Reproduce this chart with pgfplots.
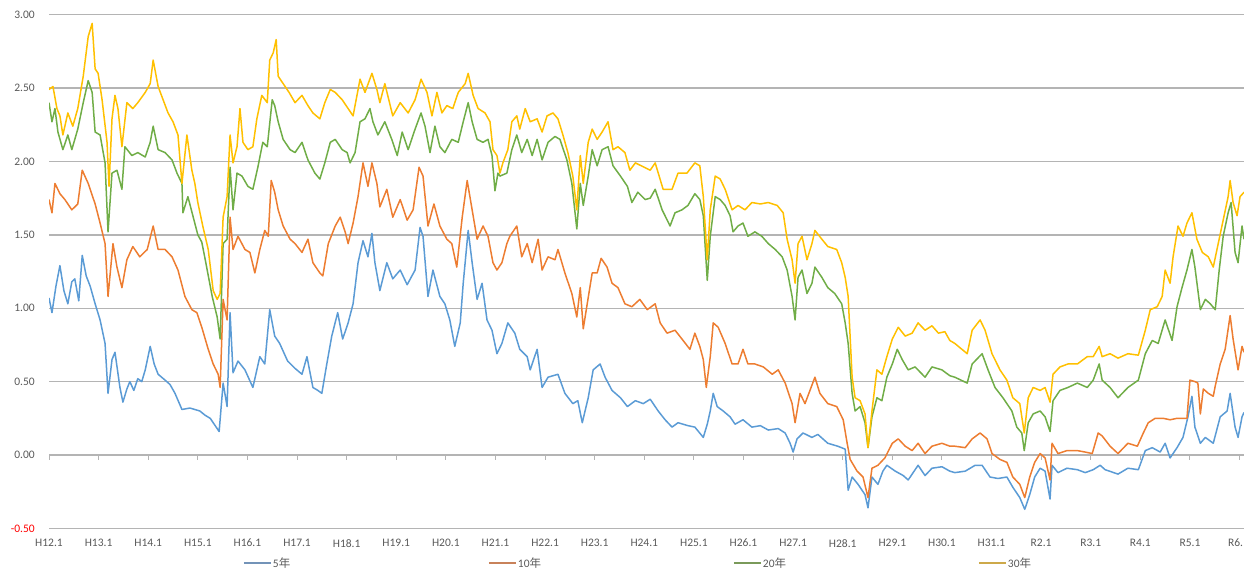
\documentclass[border=0pt]{standalone}
\usepackage{pgfplots}
\pgfplotsset{compat=1.18}
\usepackage{pgfplotstable}
\usepackage{fontspec}
\setmainfont{Carlito}
\newfontfamily\cjk{Noto Sans CJK JP}
\definecolor{c5}{HTML}{5B9BD5}
\definecolor{c10}{HTML}{ED7D31}
\definecolor{c20}{HTML}{70AD47}
\definecolor{c30}{HTML}{FFC000}
\definecolor{lg5}{HTML}{7393B8}
\definecolor{lg10}{HTML}{C8825A}
\definecolor{lg20}{HTML}{7A9A5A}
\definecolor{lg30}{HTML}{CDA94A}
\definecolor{gridgray}{HTML}{B4B4B4}
\definecolor{labelgray}{HTML}{595959}

\pgfplotstableread{
t v
0.00 1.07
0.06 0.97
0.14 1.15
0.22 1.29
0.30 1.12
0.38 1.03
0.46 1.18
0.52 1.20
0.60 1.05
0.67 1.36
0.75 1.22
0.83 1.15
0.93 1.03
1.03 0.92
1.13 0.76
1.19 0.42
1.27 0.65
1.33 0.70
1.43 0.46
1.49 0.36
1.57 0.45
1.63 0.50
1.71 0.44
1.79 0.52
1.87 0.50
1.94 0.58
2.04 0.74
2.12 0.62
2.20 0.55
2.34 0.51
2.44 0.48
2.54 0.42
2.68 0.31
2.84 0.32
3.04 0.30
3.15 0.27
3.25 0.25
3.35 0.20
3.43 0.16
3.51 0.49
3.59 0.33
3.65 0.97
3.71 0.56
3.81 0.64
3.95 0.58
4.11 0.46
4.25 0.67
4.35 0.62
4.45 0.99
4.55 0.81
4.65 0.76
4.81 0.64
4.96 0.59
5.10 0.55
5.20 0.67
5.32 0.46
5.42 0.44
5.50 0.42
5.60 0.62
5.70 0.81
5.82 0.97
5.92 0.79
6.03 0.90
6.13 1.03
6.23 1.31
6.33 1.46
6.43 1.35
6.51 1.51
6.57 1.31
6.67 1.12
6.81 1.31
6.93 1.20
7.08 1.26
7.22 1.16
7.38 1.26
7.48 1.55
7.54 1.49
7.64 1.08
7.74 1.26
7.88 1.08
7.98 1.03
8.08 0.92
8.18 0.74
8.29 0.90
8.35 1.17
8.45 1.53
8.53 1.31
8.63 1.06
8.73 1.17
8.83 0.92
8.93 0.85
9.03 0.69
9.13 0.76
9.25 0.90
9.39 0.83
9.49 0.72
9.64 0.67
9.70 0.58
9.84 0.72
9.94 0.46
10.06 0.53
10.26 0.55
10.40 0.42
10.56 0.35
10.66 0.37
10.75 0.22
10.87 0.39
10.97 0.58
11.11 0.62
11.21 0.53
11.35 0.44
11.52 0.39
11.66 0.33
11.82 0.37
11.98 0.35
12.12 0.38
12.28 0.30
12.42 0.24
12.56 0.19
12.68 0.22
12.88 0.20
13.02 0.19
13.19 0.12
13.27 0.21
13.33 0.30
13.39 0.42
13.47 0.33
13.59 0.30
13.73 0.26
13.83 0.21
13.99 0.24
14.17 0.19
14.34 0.20
14.50 0.17
14.70 0.18
14.84 0.15
14.94 0.08
15.00 0.02
15.08 0.11
15.20 0.15
15.38 0.12
15.50 0.14
15.70 0.08
15.90 0.06
16.05 0.04
16.11 -0.24
16.19 -0.15
16.31 -0.20
16.45 -0.27
16.51 -0.36
16.59 -0.15
16.71 -0.20
16.81 -0.11
16.89 -0.07
17.06 -0.11
17.22 -0.14
17.32 -0.17
17.52 -0.07
17.66 -0.14
17.80 -0.09
18.00 -0.08
18.16 -0.11
18.26 -0.12
18.47 -0.11
18.67 -0.07
18.81 -0.07
18.97 -0.15
19.13 -0.16
19.31 -0.15
19.43 -0.22
19.57 -0.29
19.67 -0.37
19.77 -0.27
19.87 -0.15
19.98 -0.09
20.08 -0.11
20.18 -0.30
20.22 -0.07
20.34 -0.12
20.52 -0.09
20.73 -0.10
20.89 -0.12
21.05 -0.10
21.19 -0.07
21.29 -0.10
21.55 -0.13
21.75 -0.09
21.96 -0.10
22.10 0.03
22.24 0.05
22.40 0.02
22.50 0.08
22.60 -0.02
22.74 0.05
22.86 0.12
22.96 0.26
23.04 0.40
23.10 0.19
23.21 0.08
23.31 0.12
23.47 0.08
23.61 0.26
23.75 0.30
23.81 0.42
23.91 0.19
23.97 0.12
24.05 0.26
24.09 0.29
}\fiveyr

\pgfplotstableread{
t v
0.00 1.74
0.06 1.65
0.12 1.85
0.22 1.78
0.32 1.74
0.46 1.67
0.58 1.71
0.67 1.94
0.79 1.85
0.93 1.71
1.03 1.58
1.13 1.44
1.19 1.08
1.29 1.44
1.37 1.28
1.47 1.14
1.57 1.33
1.69 1.42
1.83 1.35
1.98 1.40
2.10 1.56
2.20 1.40
2.34 1.40
2.48 1.35
2.60 1.26
2.74 1.08
2.88 0.99
2.98 0.97
3.08 0.87
3.21 0.72
3.31 0.62
3.41 0.55
3.45 0.46
3.51 1.06
3.59 0.92
3.65 1.62
3.71 1.40
3.81 1.49
3.95 1.40
4.05 1.38
4.15 1.24
4.25 1.40
4.35 1.53
4.42 1.49
4.48 1.87
4.55 1.79
4.62 1.67
4.72 1.56
4.86 1.47
4.96 1.44
5.10 1.38
5.22 1.47
5.32 1.31
5.46 1.24
5.52 1.22
5.63 1.44
5.77 1.56
5.87 1.62
5.97 1.52
6.03 1.44
6.13 1.58
6.23 1.76
6.33 1.99
6.43 1.83
6.51 1.99
6.61 1.85
6.67 1.69
6.81 1.81
6.93 1.62
7.08 1.74
7.22 1.60
7.34 1.67
7.46 1.96
7.54 1.90
7.64 1.56
7.76 1.71
7.88 1.56
8.02 1.47
8.12 1.44
8.22 1.28
8.33 1.62
8.43 1.87
8.53 1.67
8.63 1.47
8.75 1.56
8.85 1.49
8.95 1.31
9.03 1.26
9.13 1.31
9.23 1.44
9.29 1.49
9.43 1.56
9.53 1.35
9.64 1.44
9.74 1.31
9.86 1.47
9.94 1.26
10.06 1.35
10.20 1.33
10.26 1.40
10.40 1.24
10.54 1.10
10.64 0.94
10.71 1.14
10.77 0.86
10.85 1.03
10.95 1.24
11.05 1.24
11.13 1.34
11.25 1.28
11.35 1.17
11.47 1.14
11.61 1.03
11.75 1.01
11.91 1.06
12.06 0.99
12.22 1.03
12.32 0.90
12.46 0.83
12.62 0.85
12.76 0.79
12.92 0.72
13.02 0.83
13.12 0.74
13.19 0.65
13.25 0.46
13.33 0.67
13.39 0.90
13.49 0.87
13.63 0.76
13.77 0.62
13.89 0.62
13.99 0.72
14.09 0.62
14.23 0.62
14.40 0.60
14.58 0.55
14.70 0.58
14.84 0.49
14.98 0.35
15.04 0.22
15.14 0.42
15.24 0.35
15.34 0.44
15.44 0.53
15.54 0.42
15.70 0.35
15.88 0.33
16.01 0.24
16.09 0.08
16.15 -0.03
16.29 -0.11
16.41 -0.15
16.51 -0.29
16.59 -0.09
16.71 -0.07
16.85 -0.02
17.00 0.08
17.12 0.11
17.26 0.06
17.40 0.03
17.52 0.08
17.66 0.01
17.80 0.06
18.00 0.08
18.16 0.06
18.26 0.06
18.47 0.05
18.61 0.11
18.77 0.15
18.91 0.11
19.01 0.01
19.17 -0.03
19.31 -0.05
19.43 -0.15
19.57 -0.20
19.67 -0.29
19.77 -0.15
19.87 -0.05
19.98 0.01
20.08 -0.02
20.18 -0.17
20.22 0.08
20.34 0.01
20.52 0.03
20.73 0.03
20.89 0.02
21.03 0.01
21.15 0.15
21.23 0.13
21.39 0.06
21.55 0.01
21.75 0.08
21.94 0.06
22.06 0.15
22.16 0.22
22.30 0.25
22.46 0.25
22.60 0.24
22.74 0.25
22.94 0.25
23.00 0.51
23.10 0.50
23.16 0.49
23.21 0.28
23.27 0.45
23.37 0.42
23.47 0.40
23.51 0.47
23.61 0.62
23.71 0.72
23.81 0.95
23.87 0.79
23.97 0.58
24.05 0.74
24.09 0.70
}\tenyr

\pgfplotstableread{
t v
0.00 2.40
0.06 2.27
0.12 2.36
0.18 2.20
0.28 2.08
0.38 2.18
0.46 2.08
0.58 2.22
0.69 2.40
0.79 2.55
0.87 2.47
0.93 2.20
1.03 2.18
1.13 1.99
1.19 1.52
1.27 1.92
1.37 1.94
1.47 1.81
1.53 2.10
1.67 2.04
1.79 2.06
1.94 2.03
2.04 2.13
2.10 2.24
2.20 2.08
2.34 2.06
2.48 2.01
2.58 1.92
2.68 1.85
2.70 1.65
2.80 1.76
2.90 1.63
3.00 1.50
3.08 1.45
3.15 1.33
3.29 1.08
3.39 0.94
3.45 0.79
3.51 1.44
3.59 1.47
3.65 1.96
3.71 1.67
3.79 1.92
3.89 1.90
4.01 1.83
4.11 1.81
4.21 1.96
4.31 2.13
4.40 2.10
4.50 2.42
4.55 2.38
4.62 2.27
4.72 2.15
4.86 2.08
4.96 2.06
5.10 2.13
5.22 2.01
5.36 1.92
5.46 1.88
5.56 1.99
5.67 2.13
5.77 2.15
5.91 2.08
6.01 2.06
6.07 1.99
6.17 2.06
6.27 2.27
6.37 2.29
6.47 2.36
6.53 2.27
6.63 2.18
6.77 2.27
6.91 2.15
7.02 2.04
7.12 2.20
7.24 2.08
7.38 2.22
7.50 2.33
7.58 2.24
7.68 2.06
7.78 2.24
7.88 2.10
7.98 2.06
8.12 2.15
8.25 2.13
8.35 2.27
8.45 2.40
8.53 2.27
8.63 2.15
8.75 2.13
8.85 2.15
8.93 2.04
8.99 1.80
9.05 1.92
9.09 1.90
9.23 1.92
9.33 2.08
9.43 2.18
9.53 2.06
9.64 2.15
9.74 2.04
9.84 2.15
9.94 2.01
10.06 2.13
10.20 2.17
10.30 2.15
10.44 2.01
10.54 1.85
10.64 1.54
10.71 1.85
10.77 1.70
10.87 1.90
10.95 2.08
11.05 1.97
11.15 2.08
11.27 2.10
11.37 1.97
11.52 1.90
11.66 1.83
11.75 1.72
11.87 1.79
12.02 1.74
12.12 1.75
12.22 1.81
12.36 1.67
12.52 1.56
12.62 1.65
12.76 1.67
12.88 1.70
13.02 1.78
13.12 1.74
13.19 1.63
13.27 1.19
13.33 1.49
13.43 1.76
13.53 1.74
13.63 1.70
13.73 1.63
13.79 1.52
13.89 1.56
13.99 1.58
14.09 1.49
14.23 1.52
14.37 1.49
14.50 1.44
14.64 1.40
14.78 1.35
14.88 1.26
14.98 1.08
15.04 0.92
15.10 1.21
15.18 1.26
15.28 1.10
15.38 1.17
15.44 1.28
15.58 1.21
15.70 1.14
15.84 1.10
15.98 1.03
16.05 0.90
16.11 0.76
16.19 0.42
16.25 0.30
16.35 0.33
16.45 0.22
16.51 0.05
16.59 0.26
16.69 0.39
16.79 0.37
16.89 0.53
17.00 0.62
17.10 0.72
17.20 0.65
17.32 0.58
17.46 0.60
17.66 0.53
17.80 0.60
18.00 0.58
18.16 0.54
18.26 0.53
18.51 0.49
18.61 0.62
18.81 0.69
18.93 0.58
19.07 0.46
19.23 0.39
19.41 0.30
19.51 0.19
19.61 0.15
19.66 0.03
19.74 0.22
19.84 0.28
19.98 0.30
20.08 0.26
20.18 0.16
20.24 0.37
20.38 0.44
20.54 0.46
20.73 0.49
20.93 0.46
21.05 0.51
21.17 0.62
21.23 0.51
21.39 0.46
21.55 0.39
21.75 0.46
21.96 0.51
22.10 0.69
22.24 0.78
22.36 0.76
22.50 0.92
22.64 0.78
22.74 1.01
22.84 1.14
22.94 1.26
23.04 1.40
23.10 1.28
23.21 0.99
23.31 1.06
23.41 1.03
23.51 0.99
23.59 1.26
23.67 1.49
23.77 1.65
23.83 1.72
23.91 1.38
23.97 1.31
24.05 1.56
24.09 1.47
}\twentyyr

\pgfplotstableread{
t v
0.00 2.49
0.08 2.51
0.16 2.36
0.22 2.31
0.28 2.18
0.38 2.33
0.48 2.24
0.58 2.36
0.69 2.58
0.79 2.85
0.87 2.94
0.93 2.63
0.99 2.60
1.07 2.42
1.17 2.13
1.21 1.83
1.27 2.29
1.33 2.45
1.39 2.36
1.47 2.10
1.57 2.40
1.69 2.36
1.79 2.40
1.94 2.47
2.04 2.53
2.10 2.69
2.20 2.51
2.30 2.42
2.40 2.33
2.50 2.27
2.60 2.18
2.68 1.85
2.78 2.18
2.88 1.94
2.94 1.85
3.00 1.72
3.10 1.56
3.21 1.40
3.31 1.12
3.39 1.06
3.45 1.10
3.51 1.62
3.59 1.76
3.65 2.18
3.71 1.99
3.79 2.10
3.85 2.36
3.91 2.13
4.01 2.08
4.11 2.10
4.19 2.29
4.29 2.45
4.40 2.40
4.45 2.69
4.52 2.74
4.58 2.83
4.62 2.58
4.72 2.53
4.84 2.47
4.96 2.40
5.10 2.45
5.22 2.38
5.32 2.33
5.46 2.29
5.56 2.40
5.67 2.49
5.77 2.47
5.91 2.42
6.03 2.36
6.13 2.31
6.27 2.56
6.37 2.47
6.51 2.60
6.61 2.49
6.67 2.40
6.77 2.53
6.93 2.31
7.08 2.40
7.24 2.33
7.38 2.42
7.50 2.56
7.62 2.47
7.72 2.31
7.82 2.47
7.92 2.33
8.02 2.38
8.14 2.36
8.25 2.47
8.39 2.53
8.45 2.60
8.55 2.45
8.65 2.36
8.79 2.33
8.89 2.27
8.95 2.08
9.03 2.04
9.09 1.92
9.15 1.99
9.25 2.08
9.33 2.27
9.43 2.31
9.49 2.22
9.60 2.36
9.70 2.27
9.84 2.29
9.94 2.20
10.04 2.31
10.16 2.33
10.26 2.29
10.36 2.18
10.46 2.06
10.56 1.90
10.64 1.67
10.71 2.04
10.77 1.85
10.87 2.13
10.95 2.22
11.05 2.15
11.15 2.20
11.27 2.27
11.37 2.08
11.47 2.10
11.61 2.06
11.71 1.94
11.82 1.99
11.94 1.97
12.12 1.94
12.22 1.99
12.38 1.81
12.56 1.81
12.68 1.92
12.86 1.92
13.02 1.99
13.12 1.97
13.19 1.76
13.27 1.33
13.33 1.67
13.43 1.90
13.53 1.88
13.63 1.81
13.77 1.67
13.89 1.70
14.03 1.67
14.17 1.72
14.34 1.71
14.50 1.72
14.68 1.70
14.80 1.65
14.88 1.47
14.98 1.33
15.04 1.17
15.10 1.44
15.18 1.49
15.28 1.33
15.38 1.44
15.44 1.53
15.58 1.47
15.70 1.42
15.88 1.40
15.98 1.31
16.05 1.21
16.11 1.08
16.19 0.53
16.25 0.39
16.35 0.37
16.45 0.28
16.51 0.05
16.59 0.30
16.69 0.58
16.79 0.55
16.89 0.67
17.00 0.79
17.12 0.87
17.26 0.81
17.40 0.83
17.52 0.90
17.66 0.85
17.80 0.88
17.93 0.83
18.06 0.84
18.16 0.78
18.26 0.76
18.51 0.69
18.61 0.85
18.77 0.92
18.87 0.85
19.01 0.69
19.17 0.58
19.31 0.51
19.43 0.39
19.57 0.35
19.66 0.15
19.74 0.39
19.84 0.46
19.98 0.44
20.08 0.46
20.18 0.36
20.24 0.55
20.38 0.60
20.54 0.62
20.73 0.62
20.93 0.67
21.05 0.67
21.17 0.74
21.23 0.67
21.39 0.69
21.55 0.66
21.75 0.69
21.96 0.68
22.10 0.85
22.20 0.99
22.34 1.01
22.44 1.08
22.50 1.26
22.60 1.17
22.66 1.35
22.76 1.56
22.86 1.49
22.94 1.58
23.04 1.65
23.14 1.47
23.25 1.38
23.37 1.35
23.47 1.28
23.57 1.44
23.67 1.60
23.77 1.76
23.81 1.87
23.87 1.72
23.95 1.63
24.01 1.76
24.09 1.79
}\thirtyyr

\begin{document}
\begin{tikzpicture}
\begin{axis}[
  scale only axis,
  width=1195bp, height=513.8bp,
  xmin=0, xmax=24.09, ymin=-0.5, ymax=3,
  axis line style={draw=none},
  tick style={draw=none},
  ytick={-0.5,0,0.5,1,1.5,2,2.5,3},
  yticklabels={\textcolor{red}{-0.50},0.00,0.50,1.00,1.50,2.00,2.50,3.00},
  xtick={0,1,...,24},
  xticklabels={H12.1,H13.1,H14.1,H15.1,H16.1,H17.1,H18.1,H19.1,H20.1,H21.1,H22.1,H23.1,H24.1,H25.1,H26.1,H27.1,H28.1,H29.1,H30.1,H31.1,R2.1,R3.1,R4.1,R5.1,{\hspace*{-8bp}R6.}},
  ymajorgrids,
  major grid style={draw=gridgray, line width=1.4bp},
  ticklabel style={font=\fontsize{11.5bp}{13bp}\selectfont, text=labelgray},
  yticklabel style={anchor=east, inner sep=0pt, xshift=-14bp},
  xticklabel style={anchor=north, inner sep=0pt, yshift=-10.6bp},
  legend columns=4,
  legend cell align=left,
  legend style={at={(0.1623,-0.0673)}, anchor=west, draw=none, fill=none,
    inner sep=0pt, outer sep=0pt,
    font=\fontsize{11.5bp}{13bp}\selectfont, text=labelgray,
    nodes={inner sep=1bp},
    /tikz/every even column/.style={column sep=0pt}},
  legend image code/.code={\draw[#1] (0bp,0bp) -- (27bp,0bp);},
  every axis plot/.append style={line width=1.5bp, line join=round},
]
\pgfplotsinvokeforeach{0,...,24}{\draw[gridgray, line width=1bp] (axis cs:#1,0) -- ([yshift=-4.5bp]axis cs:#1,0);}
\addplot[c5, forget plot] table[x=t, y=v] {\fiveyr};
\addplot[c10, forget plot] table[x=t, y=v] {\tenyr};
\addplot[c20, forget plot] table[x=t, y=v] {\twentyyr};
\addplot[c30, forget plot] table[x=t, y=v] {\thirtyyr};
\addlegendimage{color=lg5, line width=2bp}
\addlegendentry{\makebox[214bp][l]{5{\cjk 年}}}
\addlegendimage{color=lg10, line width=2bp}
\addlegendentry{\makebox[214bp][l]{10{\cjk 年}}}
\addlegendimage{color=lg20, line width=2bp}
\addlegendentry{\makebox[214bp][l]{20{\cjk 年}}}
\addlegendimage{color=lg30, line width=2bp}
\addlegendentry{\makebox[30bp][l]{30{\cjk 年}}}
\end{axis}
\pgfresetboundingbox
\path ([xshift=-49bp,yshift=-40.6bp]current axis.south west) rectangle ([yshift=14.6bp]current axis.north east);
\end{tikzpicture}
\end{document}
